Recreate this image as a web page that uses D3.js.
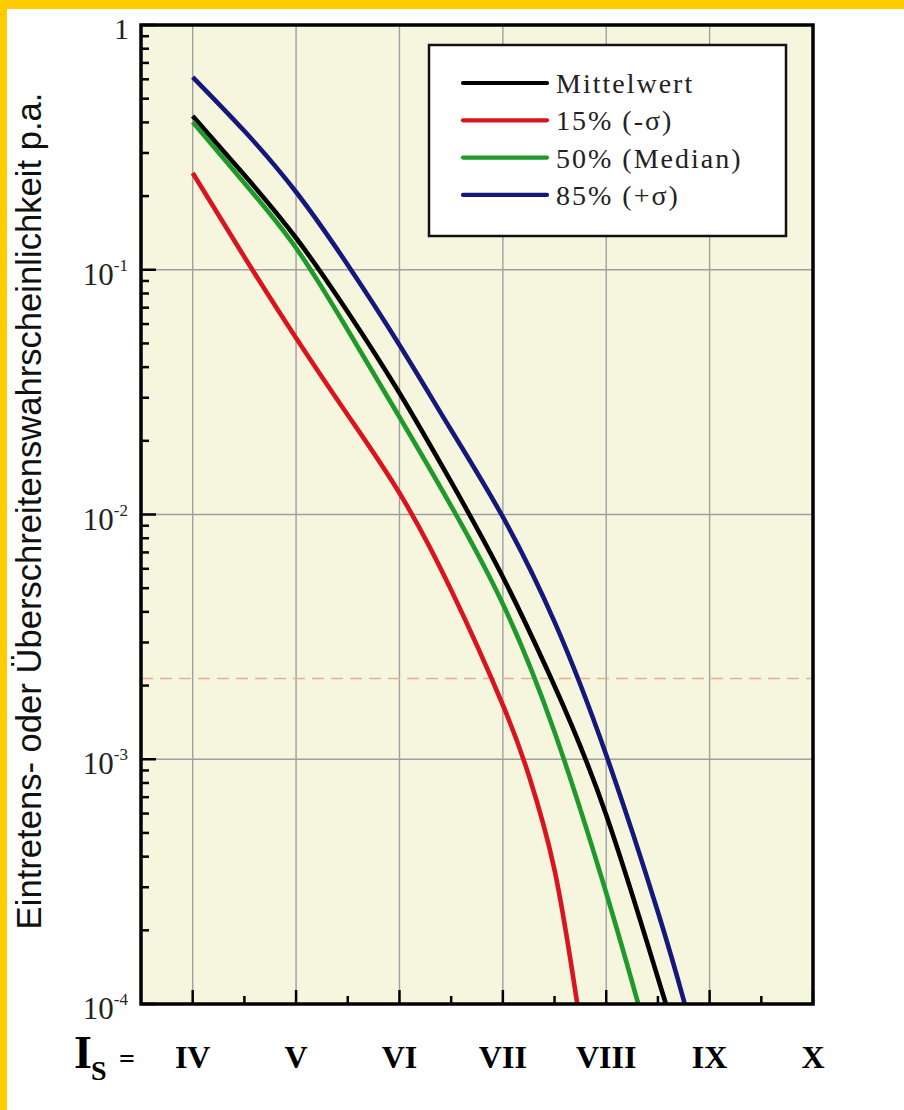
<!DOCTYPE html>
<html><head><meta charset="utf-8">
<script src="https://cdn.jsdelivr.net/npm/d3@7"></script>
<style>body{margin:0;background:#fff}svg{display:block}</style>
</head><body>
<svg id="c" width="904" height="1110"></svg>
<script>
// ---- data ----
const intensityLabels = ["IV","V","VI","VII","VIII","IX","X"];
const intensityValues = [4,5,6,7,8,9,10];
const yTickExponents = [0,-1,-2,-3,-4];
const seriesNames = ["Mittelwert","15% (-σ)","50% (Median)","85% (+σ)"];
const seriesColors = ["#000000","#d9141e","#1e9a2b","#15187a"];

const meanX = [4,4.5,5,5.5,6,6.5,7,7.5,8,8.5,8.58];
const meanP = [0.4247,0.2438,0.1348,0.0672,0.03136,0.01358,0.005554,0.001992,0.000592,0.0001277,0.0001];
const p15X = [4,4.5,5,5.5,6,6.5,7,7.25,7.5,7.72];
const p15P = [0.2485,0.1127,0.05262,0.0255,0.01224,0.004914,0.001666,0.000862,0.0003528,0.0001];
const p50X = [4,4.5,5,5.5,6,6.5,7,7.5,8,8.31];
const p50P = [0.4016,0.2261,0.1227,0.05673,0.02502,0.01083,0.004309,0.001292,0.0002842,0.0001];
const p85X = [4,4.5,5,5.5,6,6.5,7,7.5,8,8.5,8.76];
const p85P = [0.613,0.3688,0.2078,0.1046,0.04926,0.02214,0.00977,0.00364,0.001041,0.0002376,0.0001];
const referenceLevel = 0.00214;

const seriesX = [meanX,p15X,p50X,p85X];
const seriesP = [meanP,p15P,p50P,p85P];

// ---- layout ----
const L = 141, R = 813, T = 25, B = 1004;
const svg = d3.select("#c");
const x = d3.scaleLinear().domain([3.5,10]).range([L,R]);
const y = d3.scaleLog().domain([1e-4,1]).range([B,T]);
const serif = "'Liberation Serif','Times New Roman',serif";

// yellow frame
svg.append("rect").attr("x",0).attr("y",0).attr("width",904).attr("height",9).attr("fill","#ffcc00");
svg.append("rect").attr("x",0).attr("y",0).attr("width",7).attr("height",1110).attr("fill","#ffcc00");

// plot background
svg.append("rect").attr("x",L).attr("y",T).attr("width",R-L).attr("height",B-T).attr("fill","#f6f5dd");

// grid
const g = svg.append("g");
g.selectAll("line.vg").data(intensityValues).join("line")
  .attr("x1",d=>x(d)).attr("x2",d=>x(d)).attr("y1",T).attr("y2",B)
  .attr("stroke","#a0a0a0").attr("stroke-width",1.4);
g.selectAll("line.hg").data(yTickExponents).join("line")
  .attr("y1",d=>y(Math.pow(10,d))).attr("y2",d=>y(Math.pow(10,d))).attr("x1",L).attr("x2",R)
  .attr("stroke","#a0a0a0").attr("stroke-width",1.4);

// reference dashed line
svg.append("line").attr("x1",L).attr("x2",R).attr("y1",y(referenceLevel)).attr("y2",y(referenceLevel))
  .attr("stroke","#e6b08e").attr("stroke-width",1.5).attr("stroke-dasharray","12,7");

// ticks (inside)
const tk = svg.append("g").attr("stroke","#000").attr("stroke-width",2.5);
const minorY = [];
for (let e=-4; e<0; e++) for (let m=2; m<=9; m++) minorY.push(m*Math.pow(10,e));
tk.selectAll("line.ymaj").data(yTickExponents).join("line")
  .attr("x1",L).attr("x2",L+15).attr("y1",d=>y(Math.pow(10,d))).attr("y2",d=>y(Math.pow(10,d)));
tk.selectAll("line.ymin").data(minorY).join("line")
  .attr("x1",L).attr("x2",L+8).attr("y1",d=>y(d)).attr("y2",d=>y(d));
const minorX = intensityValues.slice(0,-1).map(v=>v+0.5);
tk.selectAll("line.xmaj").data(intensityValues).join("line")
  .attr("x1",d=>x(d)).attr("x2",d=>x(d)).attr("y1",B).attr("y2",B-14);
tk.selectAll("line.xmin").data(minorX).join("line")
  .attr("x1",d=>x(d)).attr("x2",d=>x(d)).attr("y1",B).attr("y2",B-8);

// curves
svg.append("clipPath").attr("id","clip").append("rect").attr("x",L).attr("y",T).attr("width",R-L).attr("height",B-T);
const line = d3.line().x(d=>x(d[0])).y(d=>y(d[1])).curve(d3.curveNatural);
const order = [0,2,1,3];
order.forEach(i=>{
  const pts = seriesX[i].map((v,k)=>[v,seriesP[i][k]]);
  svg.append("path").attr("d",line(pts)).attr("fill","none")
    .attr("stroke",seriesColors[i]).attr("stroke-width",4.6).attr("stroke-linejoin","round")
    .attr("clip-path","url(#clip)");
});

// frame
svg.append("rect").attr("x",L).attr("y",T).attr("width",R-L).attr("height",B-T)
  .attr("fill","none").attr("stroke","#000").attr("stroke-width",3.5);

// legend
const lg = svg.append("g");
lg.append("rect").attr("x",429).attr("y",45).attr("width",357).attr("height",191)
  .attr("fill","#fff").attr("stroke","#111").attr("stroke-width",2.5);
seriesNames.forEach((n,i)=>{
  const yy = 83 + i*37.3;
  lg.append("line").attr("x1",463).attr("x2",547).attr("y1",yy).attr("y2",yy)
    .attr("stroke",seriesColors[i]).attr("stroke-width",4.2).attr("stroke-linecap","round");
  lg.append("text").attr("x",556).attr("y",yy+10).text(n)
    .attr("font-family",serif).attr("font-size",28)
    .attr("letter-spacing","2px").attr("fill","#222");
});

// y tick labels
yTickExponents.forEach(e=>{
  const yy = y(Math.pow(10,e));
  if (e===0) {
    svg.append("text").attr("x",129).attr("y",yy+14).attr("text-anchor","end")
      .attr("font-family",serif).attr("font-size",30).attr("fill","#222").text("1");
  } else {
    const t = svg.append("text").attr("x",128).attr("y",yy+15).attr("text-anchor","end")
      .attr("font-family",serif).attr("font-size",31).attr("fill","#222");
    t.append("tspan").text("10");
    t.append("tspan").attr("dy",-14).attr("font-size",17).text(String(e));
  }
});

// x labels
intensityLabels.forEach((lab,i)=>{
  svg.append("text").attr("x",x(intensityValues[i])).attr("y",1068).attr("text-anchor","middle")
    .attr("font-family",serif).attr("font-weight","bold").attr("font-size",32).attr("fill","#000").text(lab);
});
// I_S =
svg.append("text").attr("x",74).attr("y",1068).attr("font-family",serif).attr("font-weight","bold")
  .attr("font-size",46).text("I");
svg.append("text").attr("x",91).attr("y",1080).attr("font-family",serif).attr("font-weight","bold")
  .attr("font-size",28).text("S");
svg.append("text").attr("x",119).attr("y",1068).attr("font-family",serif).attr("font-weight","bold")
  .attr("font-size",28).text("=");

// y title
const yt = svg.append("text").attr("transform","translate(41,511) rotate(-90)").attr("text-anchor","middle")
  .attr("font-family","'Liberation Sans',Arial,sans-serif").attr("font-size",26).attr("fill","#111")
  .text("Eintretens- oder Überschreitenswahrscheinlichkeit p.a.");
const w = yt.node().getComputedTextLength();
yt.attr("font-size", 26*837/w);
</script>
</body></html>
